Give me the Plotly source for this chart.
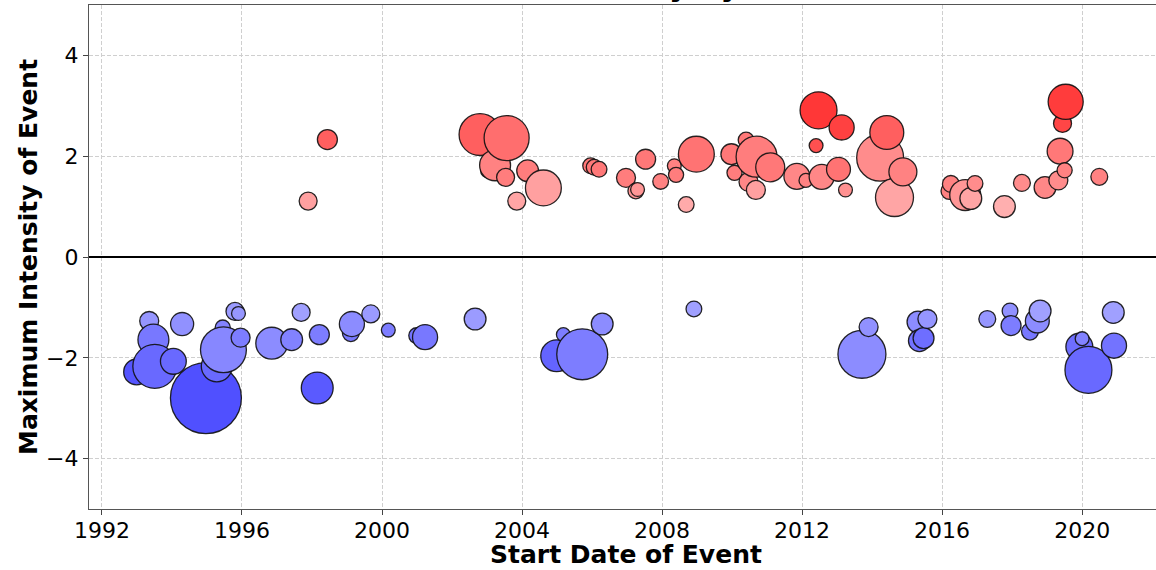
import numpy as np
import plotly.graph_objects as go

# ---------------- data ----------------
# Marine heatwaves (positive intensity)
hw_start = [1997.89, 1998.44, 2002.80, 2003.04, 2003.10, 2003.23, 2003.53, 2003.56, 2003.85, 2004.16,
            2004.61, 2005.96, 2006.06, 2006.20, 2006.97, 2007.25, 2007.30, 2007.53, 2007.96, 2008.35,
            2008.40, 2008.69, 2008.98, 2009.98, 2010.07, 2010.40, 2010.47, 2010.68, 2010.70, 2011.09,
            2011.85, 2012.11, 2012.40, 2012.47, 2012.56, 2013.04, 2013.13, 2013.24, 2014.23, 2014.42,
            2014.64, 2014.88, 2016.21, 2016.25, 2016.66, 2016.82, 2016.94, 2017.78, 2018.28, 2018.94,
            2019.32, 2019.37, 2019.44, 2019.50, 2019.53, 2020.49]
hw_max = [1.11, 2.33, 2.43, 1.72, 1.78, 1.82, 1.58, 2.36, 1.11, 1.71,
          1.37, 1.81, 1.78, 1.74, 1.57, 1.31, 1.34, 1.94, 1.50, 1.81,
          1.63, 1.04, 2.04, 2.04, 1.67, 2.32, 1.49, 1.33, 1.99, 1.78,
          1.60, 1.52, 2.21, 2.91, 1.59, 1.74, 2.57, 1.33, 1.97, 2.47,
          1.18, 1.69, 1.31, 1.45, 1.23, 1.16, 1.46, 1.00, 1.47, 1.38,
          1.52, 2.10, 2.65, 1.72, 3.08, 1.59]
hw_duration = [18, 22, 92, 14, 20, 51, 18, 106, 18, 26,
               68, 14, 14, 14, 20, 14, 11, 22, 14, 11,
               13, 14, 68, 24, 13, 14, 20, 20, 88, 45,
               36, 11, 11, 72, 34, 31, 34, 11, 115, 61,
               76, 42, 16, 16, 51, 26, 14, 26, 16, 26,
               20, 36, 18, 13, 65, 16]
hw_mean = [1.12, 1.88, 1.88, 1.59, 1.59, 1.47, 1.53, 1.71, 1.06, 1.53,
           1.12, 1.59, 1.59, 1.59, 1.53, 1.24, 1.24, 1.59, 1.47, 1.47,
           1.53, 1.00, 1.65, 1.59, 1.53, 1.59, 1.41, 1.12, 1.53, 1.59,
           1.41, 1.47, 2.06, 2.35, 1.41, 1.65, 2.24, 1.29, 1.35, 1.88,
           1.06, 1.47, 1.47, 1.47, 1.24, 1.06, 1.35, 0.94, 1.35, 1.41,
           1.35, 1.59, 2.18, 1.47, 2.29, 1.47]

# Marine cold spells (negative intensity)
cs_start = [1992.99, 1993.35, 1993.40, 1993.47, 1993.51, 1994.04, 1994.29, 1994.97, 1995.28, 1995.45,
            1995.47, 1995.80, 1995.90, 1995.96, 1996.85, 1997.42, 1997.69, 1998.15, 1998.21, 1999.11,
            1999.14, 1999.68, 2000.18, 2000.99, 2001.23, 2002.66, 2004.99, 2005.18, 2005.72, 2006.29,
            2008.91, 2013.71, 2013.90, 2015.31, 2015.35, 2015.47, 2015.58, 2017.29, 2017.94, 2017.97,
            2018.51, 2018.72, 2018.80, 2019.92, 2020.00, 2020.18, 2020.89, 2020.91]
cs_max = [-2.28, -1.27, -1.68, -1.64, -2.17, -2.07, -1.33, -2.80, -2.17, -1.40,
          -1.84, -1.08, -1.12, -1.60, -1.71, -1.64, -1.10, -2.60, -1.54, -1.51,
          -1.33, -1.13, -1.45, -1.56, -1.59, -1.23, -1.96, -1.54, -1.93, -1.33,
          -1.03, -1.93, -1.39, -1.29, -1.66, -1.61, -1.23, -1.23, -1.07, -1.36,
          -1.48, -1.27, -1.07, -1.78, -1.62, -2.24, -1.10, -1.76]
cs_duration = [36, 20, 24, 51, 101, 36, 29, 259, 51, 13,
               110, 18, 11, 20, 54, 26, 18, 54, 22, 16,
               34, 18, 11, 14, 34, 26, 54, 11, 135, 26,
               14, 120, 20, 26, 26, 24, 20, 16, 14, 22,
               16, 31, 26, 39, 11, 115, 26, 34]
cs_mean = [-2.00, -1.24, -1.65, -1.59, -1.76, -1.76, -1.29, -2.06, -1.76, -1.47,
           -1.41, -1.18, -1.24, -1.53, -1.35, -1.47, -1.12, -1.94, -1.53, -1.59,
           -1.35, -1.18, -1.53, -1.65, -1.59, -1.18, -1.82, -1.53, -1.53, -1.35,
           -1.12, -1.35, -1.29, -1.35, -1.65, -1.71, -1.24, -1.24, -1.29, -1.53,
           -1.59, -1.35, -1.12, -1.71, -1.47, -1.76, -1.12, -1.65]

year_ticks = [1992, 1996, 2000, 2004, 2008, 2012, 2016, 2020]
y_ticks = [-4, -2, 0, 2, 4]

# ---------------- figure ----------------
FONT = "DejaVu Sans"
W, H = 1156, 570
ML, MR, MT, MB = 89, 0, 5, 61
PW, PH = W - ML - MR, H - MT - MB

colorscale = [[0.0, "rgb(0,0,255)"], [0.5, "rgb(255,255,255)"], [1.0, "rgb(255,0,0)"]]


def bubble_trace(x, y, dur, mean, name):
    diam = np.sqrt(20.0 * np.asarray(dur, dtype=float)) - 1.0
    return go.Scatter(
        x=x, y=y, mode="markers", name=name,
        marker=dict(
            size=diam, sizemode="diameter",
            color=mean, colorscale=colorscale, cmin=-3, cmax=3,
            line=dict(color="rgba(15,15,15,0.9)", width=1.3),
            opacity=1,
        ),
        showlegend=False,
    )


fig = go.Figure()
fig.add_trace(bubble_trace(cs_start, cs_max, cs_duration, cs_mean, "Cold spells"))
fig.add_trace(bubble_trace(hw_start, hw_max, hw_duration, hw_mean, "Heatwaves"))

grid = dict(gridcolor="#cfcfcf", gridwidth=0.8, griddash="4px,2px")

fig.update_layout(
    width=W, height=H,
    margin=dict(l=ML, r=MR, t=MT, b=MB, autoexpand=False),
    paper_bgcolor="white", plot_bgcolor="white",
    font=dict(family=FONT, color="black"),
    xaxis=dict(
        range=[1991.63, 2022.11], tickmode="array",
        tickvals=year_ticks, ticktext=[str(v) for v in year_ticks],
        tickfont=dict(size=22, family=FONT), ticks="outside", ticklen=5,
        ticklabelstandoff=-4,
        tickcolor="#444", showline=True, linecolor="#555", linewidth=1.2,
        mirror=True, zeroline=False, automargin=False,
        **grid,
    ),
    yaxis=dict(
        range=[-5, 5], tickmode="array", tickvals=y_ticks,
        ticktext=["\u22124", "\u22122", "0", "2", "4"],
        tickfont=dict(size=22, family=FONT), ticks="outside", ticklen=5,
        tickcolor="#444", showline=True, linecolor="#555", linewidth=1.2,
        mirror=False, zeroline=True, zerolinecolor="black", zerolinewidth=2,
        automargin=False,
        **grid,
    ),
)


def px_x(p):
    return (p - ML) / PW


def px_y(p):
    return (H - MB - p) / PH


# axis titles
fig.add_annotation(
    text="<b>Start Date of Event</b>", xref="paper", yref="paper",
    x=px_x(626), y=px_y(554), xanchor="center", yanchor="middle", showarrow=False,
    font=dict(size=25, family=FONT, color="black"),
)
fig.add_annotation(
    text="<b>Maximum Intensity of Event</b>", xref="paper", yref="paper",
    x=px_x(28), y=px_y(257), xanchor="center", yanchor="middle", showarrow=False,
    textangle=-90, font=dict(size=25, family=FONT, color="black"),
)

# title, mostly cut off at the top of the picture
fig.add_annotation(
    text="<b>Maximum Intensity by Year</b>", xref="paper", yref="paper",
    x=px_x(594), y=px_y(5), xanchor="center", yanchor="bottom", showarrow=False,
    font=dict(size=30, family=FONT, color="black"),
)

fig.write_html(
    "out.html",
    config={"displayModeBar": False},
    post_script="document.body.style.margin='0px';document.body.style.overflow='hidden';",
)
